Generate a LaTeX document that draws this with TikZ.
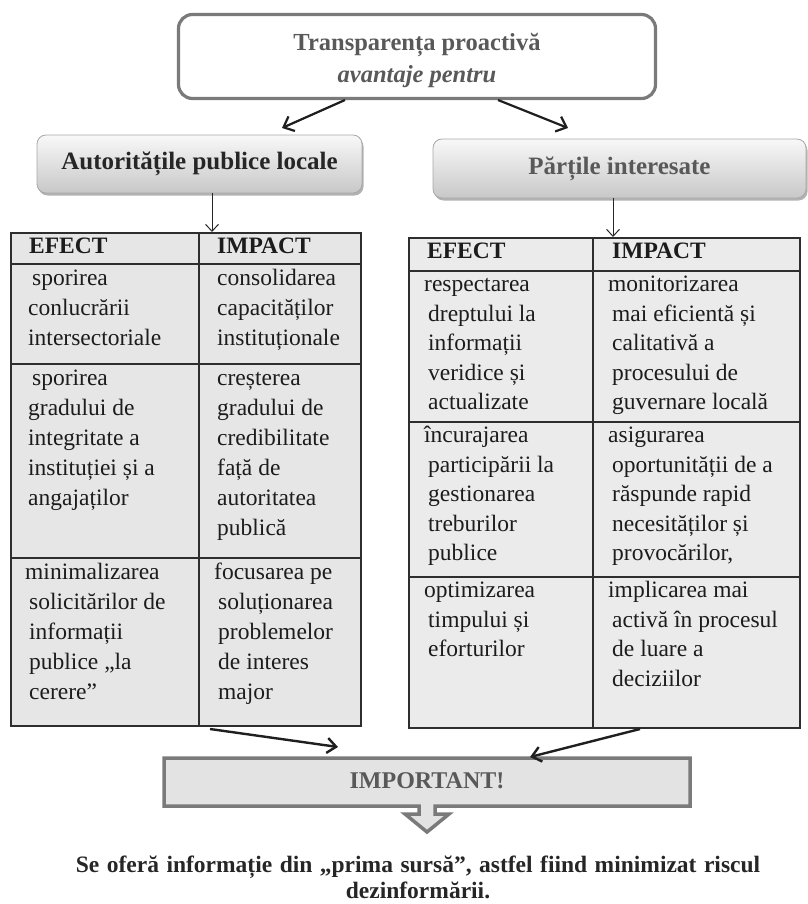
\documentclass[tikz,border=0pt]{standalone}
\usepackage{fontspec}
\setmainfont{Liberation Serif}
\usetikzlibrary{arrows.meta,shadows}

\definecolor{boxgray}{HTML}{7A7A7A}
\definecolor{txtgray}{HTML}{595959}
\definecolor{darktext}{HTML}{262626}
\definecolor{cellink}{HTML}{1C1C1C}
\definecolor{fillL}{HTML}{E6E6E6}
\definecolor{fillR}{HTML}{EBEBEB}
\definecolor{rulecol}{HTML}{2E2E2E}
\definecolor{hdrline}{HTML}{A8A8A8}
\definecolor{hdrtop}{HTML}{F8F8F8}
\definecolor{hdrbot}{HTML}{C8C8C8}
\definecolor{impfill}{HTML}{E3E3E3}

\newcommand{\outd}{\hspace*{-4pt}}

\tikzset{
  topbox/.style={draw=boxgray, line width=3.2pt, rounded corners=14pt, fill=white,
    align=center, text=txtgray, minimum width=477pt, minimum height=84pt, inner sep=0pt,
    font=\bfseries\fontsize{24.5}{32}\selectfont},
  hdrbox/.style={draw=hdrline, line width=0.8pt, rounded corners=9pt,
    top color=hdrtop, bottom color=hdrbot,
    drop shadow={shadow xshift=1.5pt, shadow yshift=-2.5pt, opacity=0.3, fill=black},
    font=\bfseries\fontsize{25}{30}\selectfont, inner sep=0pt},
  tabbox/.style={draw=rulecol, line width=1.5pt, inner sep=0pt, anchor=north west},
  gridline/.style={draw=rulecol, line width=1.5pt},
  cell/.style={anchor=north west, inner sep=0pt, align=left, text=cellink},
  cellL/.style={cell, font=\fontsize{23.5}{30}\selectfont},
  cellR/.style={cell, font=\fontsize{23.5}{29.5}\selectfont},
  headL/.style={cell, font=\bfseries\fontsize{23.5}{30}\selectfont},
  mainarrow/.style={draw=black!88, line width=2.2pt,
    -{Straight Barb[length=9pt,width=16pt]}},
  thinarrow/.style={draw=black!85, line width=1pt,
    -{Straight Barb[length=7pt,width=13pt]}},
  joinarrow/.style={draw=black!88, line width=2.4pt,
    -{Straight Barb[length=9pt,width=15pt]}},
}

\begin{document}
\begin{tikzpicture}[x=1pt,y=-1pt]
\useasboundingbox (0,0) rectangle (807,904);

% title box
\node[topbox] (top) at (417,56.5)
  {\rule{0pt}{25pt}Transparența proactivă\\\textit{avantaje pentru}};

% the two beneficiaries
\node[hdrbox, minimum width=325pt, minimum height=58pt, text=darktext] (hdrL) at (199.5,164)
  {Autoritățile publice locale};
\node[hdrbox, minimum width=373pt, minimum height=59pt, text=txtgray] (hdrR) at (619.5,168.5)
  {Părțile interesate};

\coordinate (topL) at (345,100);
\coordinate (topR) at (498,100);
\coordinate (inL) at (282,128);
\coordinate (inR) at (568,128);
\draw[mainarrow] (topL) -- (inL);
\draw[mainarrow] (topR) -- (inR);

% left table
\node[tabbox, fill=fillL, minimum width=350pt, minimum height=493pt] (tabL) at (10,232) {};
\draw[gridline] (199,232) -- (199,725);
\draw[gridline] (10,264) -- (360,264);
\draw[gridline] (10,364) -- (360,364);
\draw[gridline] (10,558) -- (360,558);

\node[headL] (lh1) at (29,232) {\strut EFECT};
\node[headL] (lh2) at (217,232) {\strut IMPACT};
\node[cellL] (l11) at (28,264) {\strut\hspace*{4pt}sporirea\\conlucrării\\intersectoriale};
\node[cellL] (l12) at (217,264) {\strut consolidarea\\capacităților\\instituționale};
\node[cellL] (l21) at (28,364) {\strut\hspace*{4pt}sporirea\\gradului de\\integritate a\\instituției și a\\angajaților};
\node[cellL] (l22) at (217,364) {\strut creșterea\\gradului de\\credibilitate\\față de\\autoritatea\\publică};
\node[cellL] (l31) at (29,558) {\strut\outd minimalizarea\\solicitărilor de\\informații\\publice „la\\cerere”};
\node[cellL] (l32) at (218,558) {\strut\outd focusarea pe\\soluționarea\\problemelor\\de interes\\major};

% right table
\node[tabbox, fill=fillR, minimum width=391pt, minimum height=490pt] (tabR) at (408,237) {};
\draw[gridline] (593,237) -- (593,727);
\draw[gridline] (408,271) -- (799,271);
\draw[gridline] (408,422) -- (799,422);
\draw[gridline] (408,577) -- (799,577);

\node[headL] (rh1) at (427,237) {\strut EFECT};
\node[headL] (rh2) at (612,237) {\strut IMPACT};
\node[cellR] (r11) at (428,271) {\strut\outd respectarea\\dreptului la\\informații\\veridice și\\actualizate};
\node[cellR] (r12) at (612,271) {\strut\outd monitorizarea\\mai eficientă și\\calitativă a\\procesului de\\guvernare locală};
\node[cellR] (r21) at (428,422) {\strut\outd încurajarea\\participării la\\gestionarea\\treburilor\\publice};
\node[cellR] (r22) at (612,422) {\strut\outd asigurarea\\oportunității de a\\răspunde rapid\\necesităților și\\provocărilor,};
\node[cellR] (r31) at (428,577) {\strut\outd optimizarea\\timpului și\\eforturilor};
\node[cellR] (r32) at (612,577) {\strut\outd implicarea mai\\activă în procesul\\de luare a\\deciziilor};

% header to table connectors
\draw[thinarrow] (hdrL.south -| 212,0) -- (tabL.north -| 212,0);
\draw[thinarrow] (hdrR.south -| 613,0) -- (tabR.north -| 613,0);

% "important" banner with its downward block arrow
\draw[draw=boxgray, line width=3.5pt, fill=impfill, line join=miter]
  (164,758) -- (690,758) -- (690,806) -- (435,806) -- (435,814) -- (449,814)
  -- (427,832) -- (405,814) -- (419,814) -- (419,806) -- (164,806) -- cycle;
\node[font=\bfseries\fontsize{24}{28}\selectfont, text=txtgray, inner sep=0pt] (imp) at (427,781) {IMPORTANT!};

\coordinate (outL) at (210,729);
\coordinate (outR) at (640,729);
\coordinate (impL) at (338,747);
\coordinate (impR) at (530,757);
\draw[joinarrow] (outL) -- (impL);
\draw[joinarrow] (outR) -- (impR);

% conclusion
\node[anchor=north, align=center, inner sep=0pt, text=darktext,
      font=\bfseries\fontsize{23.5}{26}\selectfont] (concl) at (418,853.8)
  {\strut{\spaceskip=7.5pt Se oferă informație din „prima sursă”, astfel fiind minimizat riscul}\\dezinformării.};
\end{tikzpicture}
\end{document}
